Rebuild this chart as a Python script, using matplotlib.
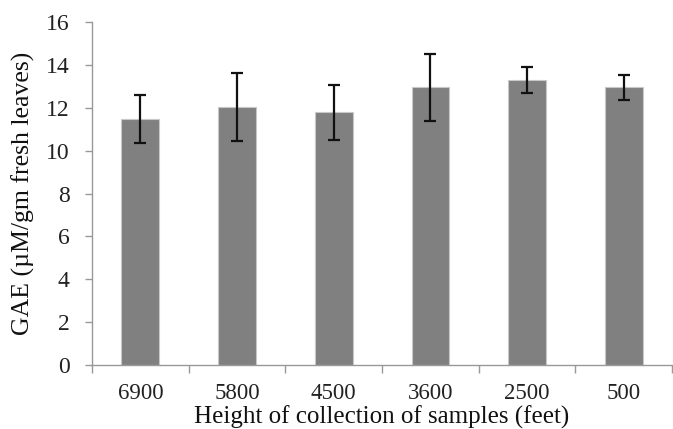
import matplotlib.pyplot as plt
import numpy as np

heights = ['6900', '5800', '4500', '3600', '2500', '500']
gae = [11.47, 12.03, 11.78, 12.95, 13.29, 12.95]
err = [1.13, 1.58, 1.29, 1.58, 0.62, 0.58]

plt.rcParams['font.family'] = 'Liberation Serif'

fig = plt.figure(figsize=(6.73, 4.29), dpi=100)
ax = fig.add_axes([0.1367, 0.1492, 0.862, 0.7995])

x = np.arange(len(heights))
ax.bar(x, gae, width=0.39, color='#808080', edgecolor='#c8c8c8', linewidth=0.8,
       yerr=err, capsize=4, error_kw=dict(ecolor='#111111', elinewidth=1.6, capthick=1.6))

ax.set_xlim(-0.5, len(heights) - 0.5)
ax.set_ylim(0, 16)
ax.set_yticks(range(0, 17, 2))

ax.set_xticks(np.arange(-0.5, len(heights), 1.0))
ax.set_xticklabels([])
ax.set_xticks(x, minor=True)
ax.set_xticklabels(heights, minor=True)
ax.tick_params(axis='x', which='minor', length=0, pad=13, labelsize=16.5, labelcolor='#222222')
ax.tick_params(axis='x', which='major', length=6, width=1, color='#999999')
ax.tick_params(axis='y', length=5, width=1, color='#999999', labelsize=17,
               labelcolor='#222222', pad=11)

for s in ['top', 'right']:
    ax.spines[s].set_visible(False)
for s in ['left', 'bottom']:
    ax.spines[s].set_color('#999999')
    ax.spines[s].set_linewidth(1)

ax.set_xlabel('Height of collection of samples (feet)', fontsize=18, labelpad=1, color='#111111')
ax.set_ylabel('GAE (\u00b5M/gm fresh leaves)', fontsize=18.5, labelpad=8, color='#111111')

fig.savefig('out.png', dpi=100)
